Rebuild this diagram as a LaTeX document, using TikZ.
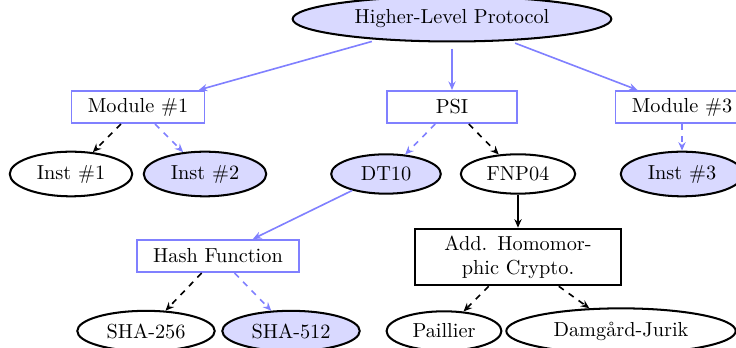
\documentclass[tikz,border=0pt]{standalone}
\usetikzlibrary{arrows.meta,shapes.geometric}

\begin{document}
\begin{tikzpicture}[x=0.4926pt,y=-0.4926pt,>={Stealth[length=4.2pt,width=3.6pt,inset=1.4pt]},
		inst/.style={ellipse,draw,line width=1pt,inner xsep=4.5pt},
		used/.style={fill=blue!15},
		module/.style={rectangle,draw=blue!50,thick,minimum width=64pt,minimum height=16pt,inner xsep=8pt},
		impl/.style={rectangle,draw,line width=1pt,text width=3cm,align=center,inner xsep=8pt},
		link/.style={->,thick},
		blink/.style={->,thick,blue!50}]
		\useasboundingbox (0,0) rectangle (736,348);

		\node[inst,used,minimum width=157pt] (top) at (452,19) {Higher-Level Protocol};

		\node[module] (mod1) at (138,107) {Module \#1};
		\node[module] (psi) at (452,107) {PSI};
		\node[module] (mod3) at (682,107) {Module \#3};

		\node[inst] (inst1) at (71,174) {Inst \#1};
		\node[inst,used] (inst2) at (205,174) {Inst \#2};
		\node[inst,used,minimum width=54pt] (dt10) at (386,174) {DT10};
		\node[inst] (fnp04) at (518,174) {FNP04};
		\node[inst,used] (inst3) at (682,174) {Inst \#3};

		\node[module] (hash) at (218,256) {Hash Function};
		\node[impl] (ahe) at (518,257) {Add. Homomor-\\phic Crypto.};

		\node[inst] (sha256) at (146,331) {SHA-256};
		\node[inst,used] (sha512) at (291,331) {SHA-512};
		\node[inst] (paillier) at (444,331) {Paillier};
		\node[inst,minimum width=113pt] (dj) at (621,331) {Damgård-Jurik};

		\draw[blink,shorten <=3pt] (top) -- (mod1);
		\draw[blink,shorten <=3pt] (top) -- (psi);
		\draw[blink,shorten <=3pt] (top) -- (mod3);

		\draw[link,dashed] (mod1) -- (inst1);
		\draw[blink,dashed] (mod1) -- (inst2);
		\draw[blink,dashed] (psi) -- (dt10);
		\draw[link,dashed] (psi) -- (fnp04);
		\draw[blink,dashed] (mod3) -- (inst3);

		\draw[blink] (dt10) -- (hash);
		\draw[link] (fnp04) -- (ahe);

		\draw[link,dashed] (hash) -- (sha256);
		\draw[blink,dashed] (hash) -- (sha512);
		\draw[link,dashed] (ahe) -- (paillier);
		\draw[link,dashed] (ahe) -- (dj);

\end{tikzpicture}
\end{document}
